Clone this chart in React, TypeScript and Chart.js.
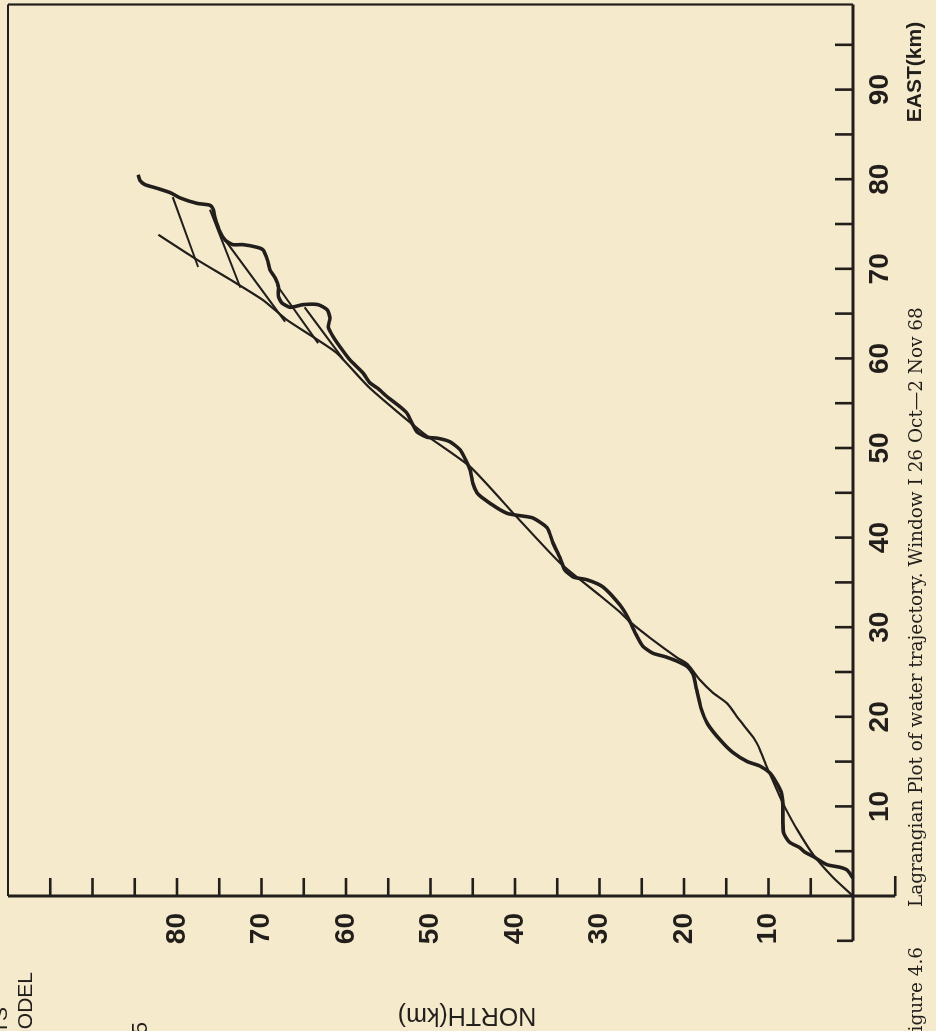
import React, { useEffect, useRef } from "react";
import { Chart, registerables } from "chart.js";
Chart.register(...registerables);

// ---- data (km) ----
const observedEast = [2.0,2.9,3.2,3.5,4.4,4.9,5.4,6.0,7.0,8.5,10.2,11.6,12.7,13.7,14.5,15.0,16.0,17.4,19.2,21.0,23.0,24.7,25.6,26.2,26.7,27.1,27.9,29.4,31.0,32.5,34.5,35.3,35.6,36.4,37.8,39.4,41.1,42.2,42.5,42.7,43.3,44.4,45.0,46.1,47.5,48.4,49.8,50.7,51.1,51.2,51.8,52.8,53.9,54.6,55.7,56.7,57.3,58.4,59.8,60.9,62.4,63.5,64.5,65.4,66.0,66.0,65.7,66.2,66.9,68.0,69.0,69.9,71.0,72.1,72.4,72.7,72.7,73.2,74.1,75.7,76.6,77.1,77.3,77.9,78.5,79.0,79.4,79.9,80.5];
const observedNorth = [0,0.7,1.5,3.1,4.7,5.7,6.3,7.5,8.2,8.3,8.3,8.5,9.1,9.8,11.0,12.5,14.2,15.7,17.2,18.0,18.5,18.9,19.6,20.8,22.2,23.7,24.9,25.8,26.6,27.6,29.6,31.5,33.1,34.1,34.7,35.5,36.2,37.9,39.8,40.9,42.1,43.8,44.5,45.0,45.3,45.7,46.5,47.7,49.2,50.4,51.6,52.2,52.8,53.6,55.1,56.3,57.2,58.0,59.5,60.4,61.5,62.1,61.9,62.2,63.3,65.1,66.6,67.6,68.0,68.0,68.4,69.0,69.3,69.8,70.5,72.2,73.4,74.3,74.9,75.5,75.7,76.1,77.6,79.6,80.8,82.4,83.8,84.4,84.6];

const modelEast = [0,2.1,4.6,7.4,9.8,11.0,12.9,14.4,16.3,17.7,19.6,21.5,22.7,24.1,25.9,26.6,28.8,30.6,31.7,33.5,37.2,42.3,47.9,51.7,56.7,60.6,62.4,64.3,66.5,68.8,71.0,73.8];
const modelNorth = [0,2.4,4.7,6.6,8.0,8.6,9.5,10.2,11.0,11.8,13.4,14.9,16.6,18.1,19.6,20.8,24.0,26.4,27.6,29.9,34.7,39.8,45.3,50.9,57.2,61.1,63.9,67.0,69.8,73.7,77.6,82.2];

const linkFromEast = [78.0, 76.6, 73.2, 68.2, 65.7];
const linkFromNorth = [80.5, 76.1, 74.3, 68.2, 64.9];
const linkToEast = [70.2, 67.9, 64.1, 61.7, 60.0];
const linkToNorth = [77.5, 72.5, 67.2, 63.3, 60.4];

const tickMarks = [5,10,15,20,25,30,35,40,45,50,55,60,65,70,75,80,85,90,95];
const eastLabels = [10,20,30,40,50,60,70,80,90];
const northLabels = [10,20,30,40,50,60,70,80];

const EAST_MAX = 99.5;
const NORTH_MAX = 100;
const AXIS_EXT = -5;

const CW = 1031;
const CH = 936;
const INK = "#221e1b";
const PAPER = "#f5eacb";

const pts = (xs: number[], ys: number[]) => xs.map((x, i) => ({ x, y: ys[i] }));

const noPad = (s: any) => {
  s.paddingTop = 0;
  s.paddingBottom = 0;
  s.paddingLeft = 0;
  s.paddingRight = 0;
};

export default function App() {
  const ref = useRef<HTMLCanvasElement | null>(null);
  useEffect(() => {
    document.documentElement.style.background = PAPER;
    document.body.style.background = PAPER;
    document.body.style.overflow = "hidden";
    const canvas = ref.current;
    if (!canvas) return;

    const framePlugin = {
      id: "frame",
      beforeDatasetsDraw(chart: any) {
        const { ctx } = chart;
        const xs = chart.scales.x;
        const ys = chart.scales.y;
        const X = (v: number) => xs.getPixelForValue(v);
        const Y = (v: number) => ys.getPixelForValue(v);
        const seg = (a: number, b: number, c: number, d: number) => {
          ctx.beginPath();
          ctx.moveTo(a, b);
          ctx.lineTo(c, d);
          ctx.stroke();
        };
        ctx.save();
        ctx.strokeStyle = INK;
        ctx.lineCap = "butt";
        ctx.lineWidth = 3;
        seg(X(AXIS_EXT), Y(0), X(EAST_MAX), Y(0));
        seg(X(0), Y(AXIS_EXT), X(0), Y(NORTH_MAX));
        ctx.lineWidth = 2.2;
        seg(X(0), Y(NORTH_MAX), X(EAST_MAX), Y(NORTH_MAX));
        seg(X(EAST_MAX), Y(0), X(EAST_MAX), Y(NORTH_MAX));
        ctx.lineWidth = 2.6;
        tickMarks.forEach((v) => seg(X(v), Y(0), X(v), Y(0) - 18));
        tickMarks.forEach((v) => seg(X(0), Y(v), X(0) + 18, Y(v)));
        seg(X(AXIS_EXT), Y(0), X(AXIS_EXT), Y(0) - 16);
        seg(X(0), Y(AXIS_EXT), X(0) + 20, Y(AXIS_EXT));
        ctx.restore();
      },
      afterDraw(chart: any) {
        const { ctx } = chart;
        ctx.save();
        ctx.fillStyle = INK;
        // axis titles
        ctx.font = 'bold 21px "Liberation Sans", Arial, sans-serif';
        ctx.textAlign = "center";
        ctx.textBaseline = "middle";
        ctx.fillText("EAST(km)", 959, 915);
        ctx.save();
        ctx.translate(16, 467);
        ctx.rotate(-Math.PI / 2);
        ctx.font = '25px "Liberation Sans", Arial, sans-serif';
        ctx.fillText("NORTH(km)", 0, 0);
        ctx.restore();
        // caption
        ctx.textBaseline = "alphabetic";
        const capMain = "Lagrangian Plot of water trajectory. Window I 26 Oct\u20142 Nov 68";
        ctx.font = '20px "DejaVu Serif", serif';
        const w = ctx.measureText(capMain).width;
        const size = (20 * 600) / w;
        ctx.font = `${size}px "DejaVu Serif", serif`;
        ctx.textAlign = "left";
        ctx.fillText(capMain, 124, 922);
        ctx.textAlign = "right";
        ctx.fillText("Figure 4.6", 84, 922);
        // fragments of neighbouring text at the page edge
        ctx.font = '21px "Liberation Sans", Arial, sans-serif';
        ctx.fillText("MODEL", 59, 32);
        ctx.fillText("TS", 24, 7);
        ctx.font = '22px "Liberation Sans", Arial, sans-serif';
        ctx.fillText("5", 9, 147);
        ctx.restore();
      },
    };

    const tickFont = { family: '"Liberation Sans", Arial, sans-serif', size: 28, weight: "bold" as const };

    const chart = new Chart(canvas, {
      type: "scatter",
      data: {
        datasets: [
          {
            data: pts(modelEast, modelNorth),
            showLine: true,
            borderColor: INK,
            borderWidth: 2.2,
            pointRadius: 0,
            tension: 0.2,
            clip: false as any,
          },
          {
            data: pts(observedEast, observedNorth),
            showLine: true,
            borderColor: INK,
            borderWidth: 3.6,
            pointRadius: 0,
            tension: 0.2,
            clip: false as any,
          },
          ...linkFromEast.map((e, i) => ({
            data: [
              { x: e, y: linkFromNorth[i] },
              { x: linkToEast[i], y: linkToNorth[i] },
            ],
            showLine: true,
            borderColor: INK,
            borderWidth: 2,
            pointRadius: 0,
            tension: 0,
            clip: false as any,
          })),
        ],
      },
      options: {
        animation: false,
        responsive: false,
        devicePixelRatio: 1,
        layout: { padding: { top: 8, right: 4.5, left: 0, bottom: 0 } },
        plugins: { legend: { display: false }, tooltip: { enabled: false } },
        scales: {
          x: {
            type: "linear",
            position: "bottom",
            min: 0,
            max: EAST_MAX,
            grid: { display: false, drawTicks: false },
            border: { display: false },
            afterFit: (s: any) => {
              s.height = 83;
              noPad(s);
            },
            afterBuildTicks: (s: any) => {
              s.ticks = eastLabels.map((v) => ({ value: v }));
            },
            ticks: {
              autoSkip: false,
              maxRotation: 0,
              minRotation: 0,
              padding: 10,
              color: INK,
              font: tickFont,
            },
          },
          y: {
            type: "linear",
            position: "left",
            min: 0,
            max: NORTH_MAX,
            grid: { display: false, drawTicks: false },
            border: { display: false },
            afterFit: (s: any) => {
              s.width = 135;
              noPad(s);
            },
            afterBuildTicks: (s: any) => {
              s.ticks = northLabels.map((v) => ({ value: v }));
            },
            ticks: {
              autoSkip: false,
              padding: 17,
              color: INK,
              font: tickFont,
            },
          },
        },
      },
      plugins: [framePlugin],
    });
    return () => chart.destroy();
  }, []);

  return (
    <div
      style={{
        position: "fixed",
        left: 0,
        top: 0,
        width: CW,
        height: CH,
        transformOrigin: "0 0",
        transform: `translateY(${CW}px) rotate(-90deg)`,
        background: PAPER,
      }}
    >
      <canvas ref={ref} width={CW} height={CH} style={{ display: "block", width: CW, height: CH }} />
    </div>
  );
}
